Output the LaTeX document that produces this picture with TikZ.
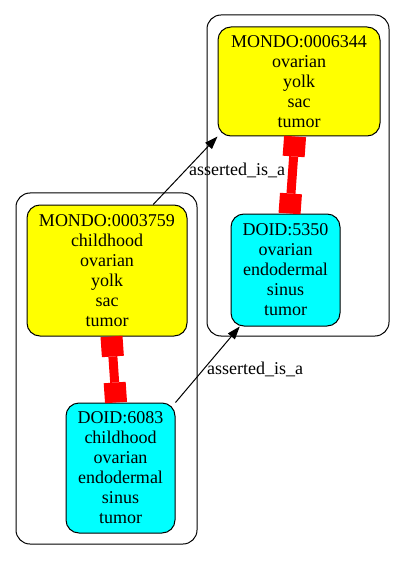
\documentclass[tikz,border=0pt]{standalone}
\usepackage{fontspec}
\setmainfont{Liberation Serif}
\usetikzlibrary{arrows.meta, positioning}
\definecolor{mondoyellow}{RGB}{255,255,0}
\definecolor{doidcyan}{RGB}{0,255,255}
\definecolor{equivred}{RGB}{255,0,0}

\begin{document}
\begin{tikzpicture}[x=1pt, y=-1pt,
    term/.style={rectangle, draw=black, rounded corners=13pt, inner sep=0pt, align=center, font=\fontsize{18}{20}\selectfont, line width=1pt},
    mondo/.style={term, fill=mondoyellow},
    doid/.style={term, fill=doidcyan},
    cluster/.style={draw=black, rounded corners=14pt, line width=1pt},
    arrow/.style={-{Triangle[length=13pt, width=9pt]}, line width=1pt},
    equiv/.style={{Rectangle[length=20pt, width=22pt, line width=0pt]}-{Rectangle[length=20pt, width=22pt, line width=0pt]}, line width=9pt, color=equivred},
    edgelabel/.style={anchor=base west, inner sep=0pt, font=\fontsize{18}{20}\selectfont}
]
\useasboundingbox (0,0) rectangle (405,561);

% Clusters
\draw[cluster] (16,193) rectangle (197,544);
\draw[cluster] (207,15) rectangle (389,336);

% Terms
\node[mondo, minimum width=162pt, minimum height=109pt] (mondo6344) at (299,81.5) {MONDO:0006344\\ovarian\\yolk\\sac\\tumor};
\node[doid, minimum width=109pt, minimum height=112pt] (doid5350) at (285.5,270) {DOID:5350\\ovarian\\endodermal\\sinus\\tumor};
\node[mondo, minimum width=160pt, minimum height=131pt] (mondo3759) at (107,270.5) {MONDO:0003759\\childhood\\ovarian\\yolk\\sac\\tumor};
\node[doid, minimum width=109pt, minimum height=130pt] (doid6083) at (120.5,468) {DOID:6083\\childhood\\ovarian\\endodermal\\sinus\\tumor};

% Equivalences
\draw[equiv] (mondo3759) -- (doid6083);
\draw[equiv] (mondo6344) -- (doid5350);

% is_a edges
\draw[arrow] (mondo3759.55) -- (mondo6344.214);
\draw[arrow] (doid6083.north east) -- (doid5350.231);

% Edge labels
\node[edgelabel] (isa1) at (189,176) {asserted\_is\_a};
\node[edgelabel] (isa2) at (207,374) {asserted\_is\_a};

\end{tikzpicture}
\end{document}
